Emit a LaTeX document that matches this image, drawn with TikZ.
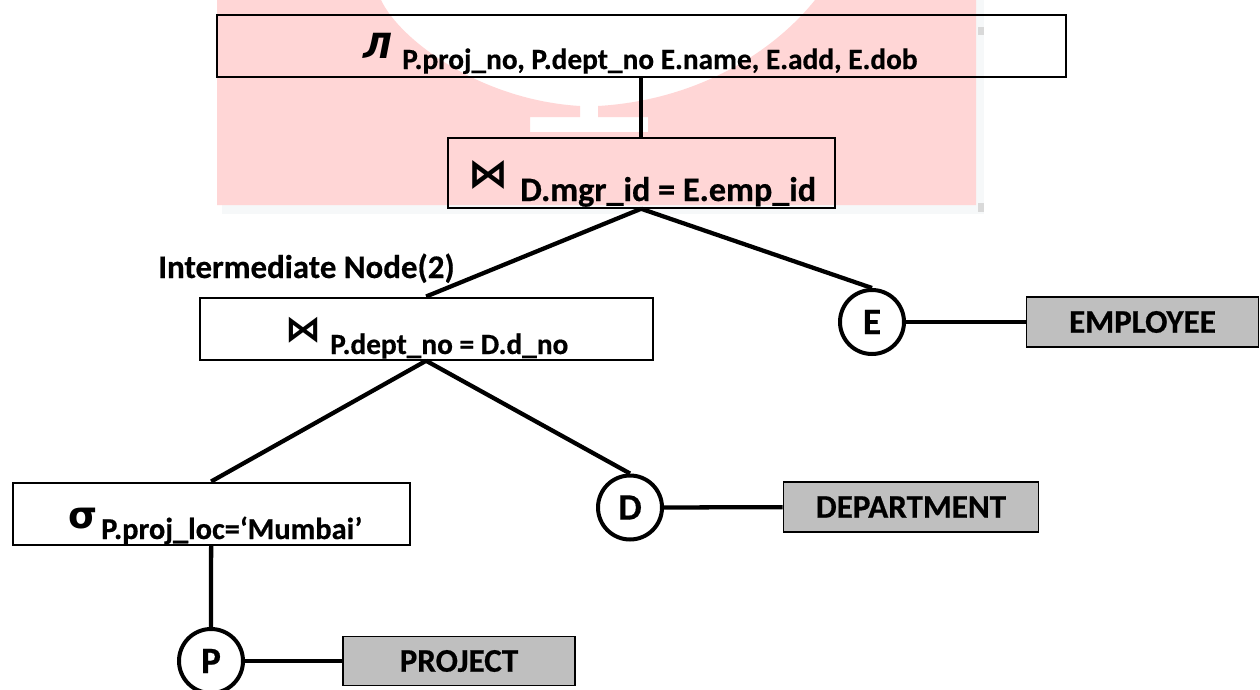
\documentclass[tikz,border=0pt]{standalone}
\usepackage{fontspec}
\setmainfont{Carlito}[BoldFont=Carlito Bold,BoldFeatures={FakeBold=0.5}]
\newfontfamily\symfont{DejaVu Sans Bold}
\newfontfamily\symobl{DejaVu Sans Bold Oblique}
\tikzset{
  x=0.75pt,y=-0.75pt,
  opbox/.style={draw=black,line width=1.7pt,inner sep=0pt,anchor=north west},
  relbox/.style={draw=black,line width=1.2pt,fill=relgrey,inner sep=0pt,font=\bfseries\fontsize{24.8}{24.8}\selectfont},
  leaf/.style={circle,draw=black,fill=white,line width=3pt,minimum size=48pt,inner sep=0pt,font=\bfseries\fontsize{28}{28}\selectfont},
  conn/.style={draw=black,line width=3.2pt},
  sub/.style={inner sep=0pt,anchor=base west,font=\bfseries\fontsize{22}{22}\selectfont},
  sym/.style={inner sep=0pt,anchor=base west,font=\bfseries\fontsize{26}{26}\selectfont},
}
\definecolor{relgrey}{RGB}{191,191,191}
\definecolor{wm}{RGB}{255,214,214}
\definecolor{wmshadow}{RGB}{246,248,249}
\begin{document}
\begin{tikzpicture}
\useasboundingbox (0,0) rectangle (1260,689);
\fill[white] (0,0) rectangle (1260,689);
% watermark
\fill[wmshadow] (975,0) rectangle (984,214);
\fill[wmshadow] (222,205) rectangle (984,214);
\fill[black!15] (978,27) rectangle (984,35);
\fill[black!15] (978,203) rectangle (984,212);
\fill[wm] (217,0) -- (381,0) .. controls (400,40) and (480,100) .. (580,106) -- (580,117) -- (530,117) -- (530,132) -- (648,132) -- (648,117) -- (598,117) -- (598,106) .. controls (700,100) and (775,50) .. (815,0) -- (976,0) -- (976,205) -- (217,205) -- cycle;
% boxes
\node[opbox,minimum width=849*0.75pt,minimum height=62*0.75pt] (proj) at (215.5,13.5) {};
\node[opbox,minimum width=387*0.75pt,minimum height=70*0.75pt] (jone) at (446.5,136.5) {};
\node[opbox,minimum width=453*0.75pt,minimum height=62*0.75pt] (jtwo) at (198.5,296.5) {};
\node[opbox,minimum width=397*0.75pt,minimum height=62*0.75pt] (sel) at (11.5,481.5) {};
\node[leaf] (e) at (872,322) {E};
\node[leaf] (d) at (630,507.5) {D};
\node[leaf] (p) at (211,661) {P};
\node[relbox,minimum width=232*0.75pt,minimum height=50*0.75pt] (emp) at (1142.5,322) {\raisebox{-1pt}{EMPLOYEE}};
\node[relbox,minimum width=255*0.75pt,minimum height=50*0.75pt] (dep) at (911,507) {\raisebox{-1pt}{DEPARTMENT}};
\node[relbox,minimum width=232*0.75pt,minimum height=49*0.75pt] (pro) at (459,661) {\raisebox{-1pt}{PROJECT}};
% connectors
\draw[conn] (proj.south -| jone.north) -- (jone.north);
\draw[conn] (jone.south) -- (jtwo.north);
\draw[conn] (jone.south) -- (e.north);
\draw[conn] (jtwo.south) -- (sel.north);
\draw[conn] (jtwo.south) -- (d.north);
\draw[conn] (sel.south) -- (p.north);
\draw[conn] (e) -- (emp);
\draw[conn] (d) -- (dep);
\draw[conn] (p) -- (pro);
% labels
\node[sym] (pi) at (363,58) {\symobl Л};
\node[sub] (tpi) at (402,69) {P.proj\_no, P.dept\_no E.name, E.add, E.dob};
\node[sym,font=\bfseries\fontsize{30}{30}\selectfont] (bone) at (468,187) {\symfont ⋈};
\node[sub,font=\bfseries\fontsize{25.7}{25.7}\selectfont] (tone) at (520,201) {D.mgr\_id = E.emp\_id};
\node[sym,font=\bfseries\fontsize{27}{27}\selectfont] (btwo) at (285,341) {\symfont ⋈};
\node[sub] (ttwo) at (330,354) {P.dept\_no = D.d\_no};
\node[sym,font=\bfseries\fontsize{28}{28}\selectfont] (sg) at (68,528) {\symfont σ};
\node[sub,font=\bfseries\fontsize{22.8}{22.8}\selectfont] (tsg) at (101,539) {P.proj\_loc=‘Mumbai’};
\node[inner sep=0pt,anchor=base west,font=\bfseries\fontsize{24.7}{24.7}\selectfont] (lab) at (158,278) {Intermediate Node(2)};
\end{tikzpicture}
\end{document}
